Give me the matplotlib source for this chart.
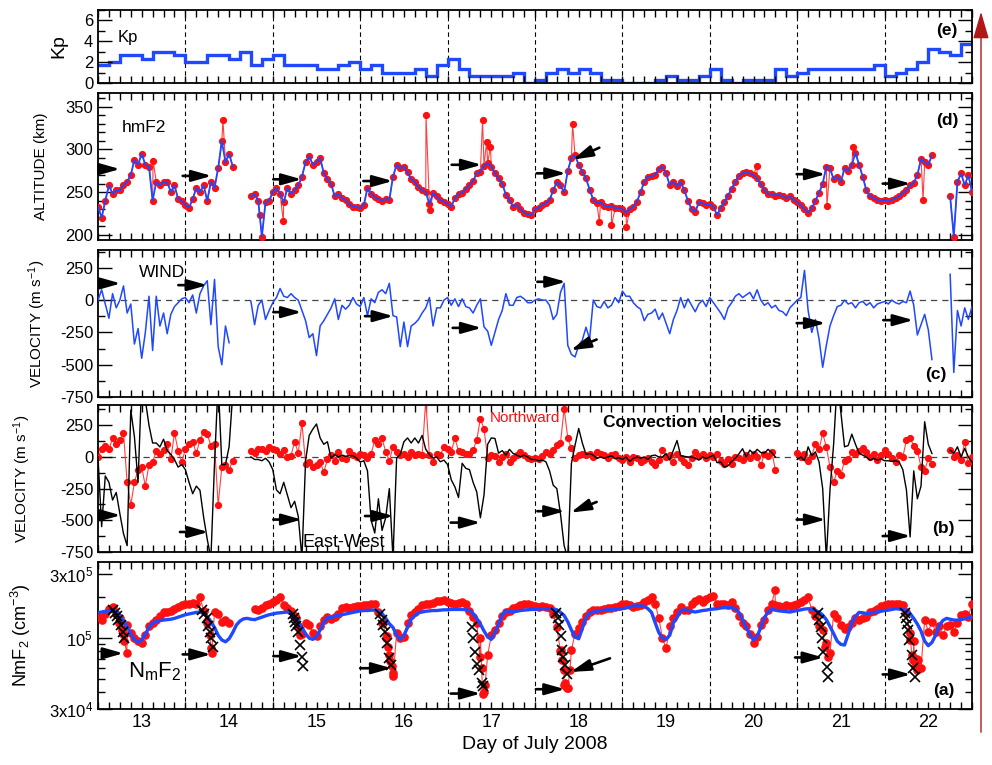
import numpy as np
import matplotlib
matplotlib.use('Agg')
import matplotlib.pyplot as plt
from matplotlib.patches import FancyArrowPatch
from matplotlib.ticker import MultipleLocator, FixedLocator, NullFormatter

plt.rcParams['font.family'] = ['Liberation Sans', 'DejaVu Sans']
plt.rcParams['mathtext.default'] = 'regular'
plt.rcParams['axes.unicode_minus'] = False

nan = np.nan

# Kp, 3-hourly from 12 UT July 12
kp = [1.7, 2.0, 2.7, 2.7, 2.3, 3.0, 3.0, 2.7,
      2.0, 2.0, 2.7, 2.7, 2.3, 3.0, 1.7, 2.3,
      2.7, 1.7, 1.7, 1.7, 1.3, 1.3, 1.7, 2.0,
      1.3, 1.7, 1.0, 1.0, 1.0, 1.3, 0.7, 1.7,
      2.3, 1.3, 0.7, 0.7, 0.7, 0.7, 1.0, 0.0,
      0.3, 1.0, 1.3, 1.0, 1.3, 1.0, 0.3, 0.3,
      0.0, 0.0, 0.0, 0.3, 0.7, 0.3, 0.3, 0.7,
      1.3, 0.3, 0.0, 0.3, 0.3, 0.3, 1.3, 0.7,
      1.0, 1.3, 1.3, 1.3, 1.3, 1.3, 1.3, 1.7,
      0.7, 1.0, 1.3, 2.0, 3.3, 3.0, 2.7, 3.7]

# hourly values, 12 UT July 12 -> 12 UT July 22
hmf2 = [233, 220, 240, 258, 248, 252, 252, 258, 262, 270,
        288, 282, 295, 282, 280, 240, 262, 258, 262, 262,
        250, 258, 242, 240, 235, 232, 242, 255, 250, 258,
        240, 262, 255, 278, 310, 285, 295, 280, nan, nan,
        nan, nan, 245, 248, 240, 198, 238, 240, 250, 255,
        248, 238, 255, 248, 252, 258, 268, 285, 292, 282,
        285, 290, 272, 265, 260, 245, 248, 243, 241, 236,
        233, 233, 231, 235, 255, 248, 244, 242, 240, 242,
        241, 268, 282, 278, 280, 273, 265, 262, 256, 252,
        250, 236, 249, 245, 241, 239, 236, 233, 243, 248,
        249, 254, 258, 263, 272, 274, 281, 284, 280, 272,
        266, 260, 247, 241, 233, 235, 230, 226, 224, 223,
        230, 232, 235, 237, 241, 252, 262, 258, 250, 275,
        290, 293, 282, 274, 266, 253, 241, 237, 238, 234,
        233, 234, 231, 232, 230, 226, 230, 233, 239, 250,
        262, 268, 269, 270, 277, 280, 272, 258, 262, 257,
        262, 252, 240, 230, 227, 238, 237, 235, 236, 233,
        223, 232, 238, 246, 254, 262, 269, 272, 274, 272,
        270, 266, 259, 253, 248, 248, 246, 247, 245, 243,
        245, 241, 238, 235, 230, 226, 231, 240, 249, 260,
        280, 278, 265, 268, 262, 278, 275, 282, 296, 282,
        268, 252, 245, 243, 241, 240, 241, 240, 241, 243,
        245, 249, 252, 258, 261, 270, 289, 285, 282, 293,
        nan, nan, nan, nan, 245, 198, 262, 272, 258, 270,
        250]
hmf2_out_t = [13.13, 13.93, 14.35, 14.62, 16.253, 16.30, 16.90, 16.946, 16.99,
              17.93, 18.236, 18.375, 18.546, 20.04, 20.84, 21.14, 21.94]
hmf2_out_v = [287, 334, 223, 216, 340, 229, 334, 309, 303,
              330, 215, 211, 209, 281, 234, 303, 241]

wind = [0, 80, -30, -140, 50, -60, 0, 110, -100, -30,
        -340, -220, -450, -250, 30, -390, 30, -200, -100, -260,
        -110, -50, -20, 10, 20, -20, 40, -100, 50, 110,
        150, -190, 160, -360, -500, -200, -330, nan, nan, nan,
        nan, nan, -10, -190, -40, 0, -150, -80, -20, 20,
        90, 30, 20, 50, 20, 0, -80, -160, -290, -260,
        -430, -200, -160, -110, -60, 10, -150, -40, -70, -40,
        20, -30, -50, 20, -120, 10, -20, 60, 80, 50,
        130, -120, -130, -360, -170, -360, -200, -180, -150, -100,
        -60, 20, -200, -60, -60, 0, 20, -40, 10, -50,
        10, -50, -60, -100, -40, 10, -207, -240, -350, -250,
        -150, -80, 50, -40, -40, 20, 30, 10, -20, -20,
        0, 10, 0, 0, -40, -150, -110, 60, 130, -350,
        -420, -440, -350, -310, -210, -300, 0, -50, -60, -10,
        -60, -40, 20, -20, 70, 30, 30, -20, -50, -70,
        -160, -110, -100, -70, -150, -100, -180, -260, -150, -80,
        20, -60, 10, -40, -90, -30, 0, -50, 20, -20,
        -60, -100, -150, -60, -20, 30, 50, 20, 40, 60,
        10, 80, 0, -40, -20, -60, -40, -80, -90, -120,
        -60, -30, 0, 20, 230, -80, -250, -150, -300, -520,
        -350, -200, -120, -50, -40, 0, -30, -20, -60, -20,
        -10, -40, -20, -60, -30, -20, -10, -30, 0, -20,
        -30, -10, -20, 70, -40, -270, -190, -110, -230, -460,
        nan, nan, nan, nan, 200, -560, -80, -200, -60, -150,
        -50]

ew = [0, -550, -150, -200, -340, -280, -447, -605, -700, 370,
      160, -200, 600, 450, 250, 110, 110, 79, 140, 50,
      20, -20, -80, -60, -100, -200, -290, -230, -263, -474,
      -650, -800, -50, 600, -60, -60, 80, 500, nan, nan,
      nan, nan, 0, -20, -20, -30, -10, -40, -100, -260,
      -290, -200, -300, -400, -350, -470, -800, -30, 170, 220,
      260, 150, 100, 120, -10, 20, 0, 15, 5, 10,
      10, -10, -40, -30, -110, -500, -600, -330, -580, -480,
      -250, -800, -10, 20, 120, 150, 110, 150, 110, 170,
      60, 20, -10, 0, -38, -25, -60, -180, -236, -320,
      -50, -90, -100, -200, -276, -480, -300, 100, 150, 146,
      30, 50, 14, 60, 27, 14, 1, 14, 0, -20,
      -20, -30, -25, -38, -110, -223, -250, -450, -700, -800,
      -50, 93, 225, 110, 20, 27, 14, -12, 0, -10,
      0, 10, -15, -5, -20, 0, -35, -12, 0, -10,
      0, -20, 10, 15, 0, 0, 27, -25, 54, 130,
      10, 5, 0, 0, -10, -25, 0, -12, 0, 14,
      -45, -40, -80, -70, -35, -10, 25, 65, 0, 54,
      25, 60, 35, 30, 60, 35, 0, nan, nan, nan,
      nan, nan, -20, 0, -30, 80, 10, 40, -40, -250,
      -800, -262, 100, 600, 350, 80, 90, 180, 100, 30,
      14, 0, -25, -12, -25, -15, -30, -30, -35, -30,
      -40, -100, -262, -631, -110, -330, -230, 278, 100, 27,
      nan, nan, nan, nan, 54, 27, 80, 0, 67, 0,
      -40]

north = [0, 60, 90, 60, 150, 100, 130, 190, -200, -380,
         -200, -100, -78, -230, -60, -40, 50, 26, 53, 100,
         -20, 190, 50, -40, 60, 100, 120, 30, 130, 200,
         180, 90, 100, -380, -78, -60, -100, -30, nan, nan,
         nan, nan, 50, 30, 60, 60, 50, 80, 66, 53,
         26, 53, 0, 10, 120, 30, 270, -52, -40, -80,
         -60, -40, -120, -20, 14, -30, 40, -10, -20, 50,
         14, 1, 27, 14, -12, 27, 130, 100, 146, 41,
         -30, 80, 41, 14, 27, 1, 41, 14, 27, 14,
         450, 14, -38, 27, 14, 80, 60, 40, 146, 50,
         41, 20, 27, 54, 133, 303, 220, -10, 14, 10,
         -38, 0, 20, -38, -12, 14, 40, 14, -5, -15,
         -12, -20, 10, 41, 27, 54, 93, 110, 380, 150,
         67, -12, 14, 27, 14, 27, 1, 41, 27, 14,
         -12, 14, 27, -12, -25, 1, -38, 1, -12, -38,
         -25, -12, -38, -65, -25, 54, 0, 14, -38, 27,
         -12, -40, -60, -10, 40, 10, 27, -12, 14, 0,
         27, -30, -52, -15, -52, 0, -12, -25, 14, -12,
         27, 0, -65, 20, 10, 40, -100, nan, nan, nan,
         nan, nan, 30, 0, 27, -30, 10, 100, 60, 186,
         80, -78, -200, -110, -140, -30, -20, 40, 20, 45,
         67, 41, 0, 27, -25, 14, 54, 20, -10, -38,
         14, 0, 133, 146, 90, 50, -78, -110, -10, -52,
         nan, nan, nan, nan, 54, 0, 14, -25, 120, -50,
         0]

# NmF2 in units of 1e5 cm^-3
nmf2_model = [1.54, 1.56, 1.58, 1.59, 1.61, 1.58, 1.48, 1.34, 1.22, 1.07,
              0.98, 0.93, 0.97, 1.07, 1.20, 1.29, 1.33, 1.35, 1.36, 1.37,
              1.38, 1.40, 1.43, 1.46, 1.49, 1.51, 1.53, 1.55, 1.56, 1.53,
              1.44, 1.32, 1.20, 1.05, 0.97, 0.94, 0.99, 1.10, 1.25, 1.34,
              1.39, 1.40, 1.38, 1.37, 1.40, 1.43, 1.46, 1.49, 1.51, 1.53,
              1.54, 1.55, 1.56, 1.52, 1.44, 1.33, 1.20, 1.08, 1.00, 0.98,
              1.03, 1.15, 1.30, 1.42, 1.41, 1.46, 1.47, 1.49, 1.51, 1.53,
              1.55, 1.57, 1.59, 1.60, 1.60, 1.61, 1.61, 1.58, 1.52, 1.40,
              1.28, 1.20, 1.05, 0.98, 1.05, 1.20, 1.38, 1.47, 1.54, 1.56,
              1.58, 1.59, 1.60, 1.60, 1.61, 1.62, 1.62, 1.63, 1.63, 1.63,
              1.63, 1.62, 1.60, 1.52, 1.40, 1.27, 1.13, 1.02, 0.98, 1.10,
              1.26, 1.48, 1.59, 1.58, 1.56, 1.58, 1.60, 1.61, 1.62, 1.63,
              1.63, 1.64, 1.65, 1.65, 1.65, 1.65, 1.62, 1.55, 1.47, 1.32,
              1.15, 1.02, 0.99, 1.18, 1.42, 1.53, 1.56, 1.58, 1.60, 1.61,
              1.62, 1.63, 1.64, 1.64, 1.65, 1.67, 1.70, 1.73, 1.73, 1.73,
              1.72, 1.65, 1.55, 1.30, 1.10, 1.00, 0.98, 1.05, 1.30, 1.42,
              1.60, 1.62, 1.60, 1.58, 1.56, 1.58, 1.60, 1.61, 1.63, 1.64,
              1.65, 1.67, 1.68, 1.68, 1.68, 1.64, 1.55, 1.37, 1.20, 1.07,
              0.97, 1.03, 1.20, 1.42, 1.56, 1.63, 1.61, 1.59, 1.58, 1.57,
              1.56, 1.58, 1.60, 1.62, 1.64, 1.65, 1.63, 1.60, 1.56, 1.48,
              1.37, 1.22, 1.08, 0.95, 0.90, 0.89, 1.07, 1.30, 1.45, 1.55,
              1.54, 1.52, 1.53, 1.55, 1.56, 1.58, 1.60, 1.61, 1.63, 1.65,
              1.64, 1.62, 1.61, 1.52, 1.40, 1.27, 1.13, 0.95, 0.88, 0.93,
              1.05, 1.24, 1.35, 1.40, 1.38, 1.36, 1.36, 1.37, 1.39, 1.41,
              1.44]

nmf2_obs = [1.44, 1.36, 1.50, 1.65, 1.70, 1.52, 1.40, 1.08, 1.25, 1.10,
            1.00, 0.95, 0.92, 1.05, 1.22, 1.30, 1.36, 1.45, 1.56, 1.56,
            1.60, 1.64, 1.70, 1.77, 1.78, 1.80, 1.82, 1.80, 2.00, 1.60,
            1.30, 0.85, 1.56, 1.50, 1.32, 1.36, 1.29, nan, nan, nan,
            nan, nan, nan, 1.65, 1.62, 1.68, 1.76, 1.80, 1.85, 1.90,
            2.00, 1.75, 1.66, 1.58, 1.45, 1.22, 1.08, 1.30, 1.25, 1.10,
            1.03, 1.22, 1.36, 1.44, 1.38, 1.44, 1.50, 1.68, 1.70, 1.68,
            1.70, 1.72, 1.74, 1.76, 1.77, 1.78, 1.80, 1.56, 1.30, 1.00,
            0.75, 0.55, 1.10, 1.00, 1.02, 1.30, 1.48, 1.55, 1.65, 1.75,
            1.80, 1.80, 1.82, 1.89, 1.88, 1.90, 1.86, 1.82, 1.80, 1.82,
            1.84, 1.80, 1.60, 1.44, 1.29, 1.00, 0.40, 0.75, 1.05, 1.15,
            1.30, 1.45, 1.55, 1.60, 1.66, 1.70, 1.75, 1.80, 1.78, 1.76,
            1.72, 1.70, 1.72, 1.70, 1.66, 1.52, 1.20, 0.80, 0.45, 0.43,
            0.82, 1.08, 1.18, 1.32, 1.46, 1.55, 1.61, 1.61, 1.62, 1.64,
            1.66, 1.68, 1.70, 1.74, 1.78, 1.80, 1.76, 1.70, 1.74, 1.76,
            1.85, 1.92, 2.00, 1.80, 1.40, 1.00, 0.84, 1.22, 1.40, 1.56,
            1.70, 1.61, 1.62, 1.78, 1.88, 1.94, 1.84, 1.94, 2.00, 2.05,
            1.80, 1.78, 1.80, 1.76, 1.84, 1.68, 1.46, 1.30, 1.22, 1.08,
            0.92, 1.02, 1.25, 1.36, 1.61, 1.80, 1.76, 1.72, 1.70, 1.76,
            1.72, 1.76, 1.80, 1.86, 1.90, 2.00, 1.62, 1.46, 1.24, 1.15,
            0.92, 0.78, 1.50, 1.40, 1.25, 1.16, 1.20, 1.30, 1.42, 1.37,
            1.40, 1.44, 1.56, 1.60, 1.65, 1.72, 1.76, 1.78, 1.80, 1.80,
            1.78, 1.76, 1.56, 1.10, 0.95, 0.70, 0.60, 1.36, 1.12, 1.32,
            1.12, 1.22, 1.05, 1.22, 1.25, 1.12, 1.30, 1.48, 1.50, 1.44,
            1.80]
nmf2_drop_t = [12.74, 12.77, 12.80, 12.83, 13.75, 13.78, 13.80, 14.76, 14.79, 14.81,
               15.765, 15.803, 15.822, 15.841, 15.86, 15.879, 16.87, 16.89, 16.90, 16.928,
               17.793, 17.812, 17.832, 17.843, 17.862, 17.90, 20.246, 20.818, 20.856,
               21.79, 21.81, 21.829, 21.848, 21.867, 21.886]
nmf2_drop_v = [1.30, 1.15, 0.95, 0.78, 1.35, 1.05, 0.78, 1.40, 1.22, 1.05,
               1.29, 1.03, 0.86, 0.68, 0.62, 0.53, 0.73, 0.60, 0.39, 0.45,
               0.82, 0.69, 0.58, 0.47, 0.43, 0.58, 2.25, 0.86, 0.73,
               0.97, 0.75, 0.69, 0.62, 0.58, 0.69]

# crosses
cross_t = [12.668, 12.695, 12.714, 12.733, 12.760, 12.783, 12.798,
           13.686, 13.712, 13.743, 13.762, 13.781, 13.789, 13.812,
           14.727, 14.742, 14.754, 14.765, 14.784, 14.811, 14.830, 14.849,
           15.727, 15.746, 15.765, 15.784, 15.810, 15.833, 15.852,
           16.775, 16.794, 16.813, 16.833, 16.859, 16.890, 16.900,
           17.737, 17.760, 17.778, 17.793, 17.813, 17.824, 17.843, 17.862,
           20.742, 20.753, 20.768, 20.787, 20.799, 20.837, 20.856,
           21.733, 21.745, 21.752, 21.764, 21.783, 21.809, 21.829, 21.848]
cross_v = [1.61, 1.54, 1.46, 1.36, 1.25, 1.12, 1.00,
           1.61, 1.52, 1.40, 1.22, 1.12, 1.00, 0.86,
           1.52, 1.40, 1.32, 1.22, 1.12, 0.89, 0.73, 0.62,
           1.52, 1.36, 1.25, 1.12, 0.92, 0.71, 0.63,
           1.20, 1.00, 0.79, 0.65, 0.58, 0.47, 0.44,
           1.54, 1.40, 1.25, 1.03, 0.82, 0.73, 0.63, 0.54,
           1.54, 1.36, 1.20, 1.00, 0.79, 0.61, 0.52,
           1.54, 1.40, 1.27, 1.15, 0.97, 0.75, 0.60, 0.52]

# arrows: (start day, end day, y)
arrows_d = [(12.542, 12.752, 277), (13.469, 13.801, 269), (14.506, 14.831, 265),
            (15.536, 15.872, 263), (16.547, 16.890, 282), (17.519, 17.855, 272),
            (20.494, 20.826, 271), (21.478, 21.799, 260)]
arrows_c = [(12.542, 12.760, 129), (13.419, 13.751, 116), (14.506, 14.831, -93),
            (15.555, 15.879, -124), (16.558, 16.890, -215), (17.527, 17.855, 142),
            (20.494, 20.826, -178), (21.485, 21.829, -155)]
arrows_b = [(12.542, 12.760, -460), (13.438, 13.762, -592), (14.506, 14.831, -494),
            (15.555, 15.879, -466), (16.535, 16.878, -518), (17.527, 17.843, -428),
            (20.494, 20.826, -494), (21.478, 21.799, -624)]
arrows_a = [(12.600, 12.790, 0.773), (13.469, 13.793, 0.759), (14.506, 14.831, 0.737),
            (15.500, 15.860, 0.60), (16.535, 16.878, 0.39), (17.510, 17.843, 0.42),
            (20.475, 20.799, 0.72), (21.478, 21.799, 0.54)]
# slanted arrows: (tail day, tail y, head day, head y)
slant_d = (18.236, 302, 17.931, 288)
slant_c = (18.205, -305, 17.908, -388)
slant_b = (18.205, -355, 17.908, -439)
slant_a = (18.358, 0.71, 17.908, 0.563)

t = 12.5 + np.arange(len(hmf2)) / 24.0
kp_edges = 12.5 + np.arange(len(kp) + 1) * 0.125

BLUE = '#1f48ff'
RED = '#ff1010'
ARROW = '-|>,head_length=0.6,head_width=0.17'

fig = plt.figure(figsize=(9.92, 7.65), dpi=100)


def panel(top, bot):
    return fig.add_axes([98 / 992, 1 - bot / 765, 874 / 992, (bot - top) / 765])


def style(ax, labels=False):
    ax.set_xlim(12.5, 22.5)
    ax.xaxis.set_major_locator(MultipleLocator(1))
    ax.xaxis.set_minor_locator(MultipleLocator(0.125))
    ax.tick_params(which='both', direction='in', top=True, right=True, width=1.0)
    ax.tick_params(axis='x', which='both', length=5, labelsize=13)
    ax.tick_params(axis='y', which='major', length=10, labelsize=12)
    ax.tick_params(axis='y', which='minor', length=5)
    ax.tick_params(axis='x', labelbottom=labels)
    for s in ax.spines.values():
        s.set_linewidth(1.3)
    for d in np.arange(13.5, 22.0, 1.0):
        ax.axvline(d, color='k', lw=0.8, ls=(0, (4, 3)), zorder=1)


def arrow(ax, x0, y0, x1, y1):
    ax.annotate('', xy=(x1, y1), xytext=(x0, y0),
                arrowprops=dict(arrowstyle=ARROW, mutation_scale=20, color='k',
                                lw=1.9, shrinkA=0, shrinkB=0), zorder=8)


# (e) Kp
ax_e = panel(10, 83)
style(ax_e)
ax_e.stairs(kp, kp_edges, baseline=None, color=BLUE, lw=2.4)
ax_e.set_ylim(0, 7)
ax_e.yaxis.set_major_locator(MultipleLocator(2))
ax_e.yaxis.set_minor_locator(MultipleLocator(1))
ax_e.set_ylabel('Kp', fontsize=14)
ax_e.yaxis.set_label_coords(-0.035, 0.5)
ax_e.text(12.72, 4.4, 'Kp', fontsize=12, va='center')
ax_e.text(22.33, 5.0, '(e)', fontsize=12.5, fontweight='bold', ha='right', va='center')

# (d) hmF2
ax_d = panel(93, 240)
style(ax_d)
red_t = np.concatenate([t, hmf2_out_t])
red_v = np.concatenate([np.array(hmf2, float), hmf2_out_v])
o = np.argsort(red_t, kind='stable')
ax_d.plot(red_t[o], red_v[o], color='#ff4040', lw=0.8, zorder=2)
ax_d.plot(red_t[o], red_v[o], 'o', ms=4.2, color=RED, mec=RED, zorder=3)
ax_d.plot(t, hmf2, color=BLUE, lw=1.3, zorder=4)
ax_d.set_ylim(194, 366)
ax_d.yaxis.set_major_locator(MultipleLocator(50))
ax_d.yaxis.set_minor_locator(MultipleLocator(10))
ax_d.set_ylabel('ALTITUDE (km)', fontsize=11)
ax_d.yaxis.set_label_coords(-0.057, 0.5)
ax_d.text(12.775, 326, 'hmF2', fontsize=12.5, va='center')
ax_d.text(22.34, 334, '(d)', fontsize=12.5, fontweight='bold', ha='right', va='center')
for x0, x1, y in arrows_d:
    arrow(ax_d, x0, y, x1, y)
arrow(ax_d, *slant_d)

# (c) wind
ax_c = panel(250, 397)
style(ax_c)
ax_c.axhline(0, color='#444444', lw=0.9, ls=(0, (5, 4)), zorder=1)
ax_c.plot(t, wind, color=BLUE, lw=1.1, zorder=3)
ax_c.set_ylim(-750, 388)
ax_c.yaxis.set_major_locator(MultipleLocator(250))
ax_c.yaxis.set_minor_locator(MultipleLocator(125))
ax_c.set_ylabel('VELOCITY (m s$^{-1}$)', fontsize=11)
ax_c.yaxis.set_label_coords(-0.057, 0.5)
ax_c.text(12.97, 212, 'WIND', fontsize=12.5, va='center')
ax_c.text(22.21, -578, '(c)', fontsize=12.5, fontweight='bold', ha='right', va='center')
for x0, x1, y in arrows_c:
    arrow(ax_c, x0, y, x1, y)
arrow(ax_c, *slant_c)

# (b) convection
ax_b = panel(405, 552)
style(ax_b)
ax_b.axhline(0, color='#444444', lw=0.9, ls=(0, (5, 4)), zorder=1)
ax_b.plot(t, north, color='#ff4040', lw=0.8, zorder=2)
ax_b.plot(t, north, 'o', ms=4.2, color=RED, mec=RED, zorder=3)
ax_b.plot(t, ew, color='k', lw=1.0, zorder=4)
ax_b.set_ylim(-750, 410)
ax_b.yaxis.set_major_locator(MultipleLocator(250))
ax_b.yaxis.set_minor_locator(MultipleLocator(125))
ax_b.set_ylabel('VELOCITY (m s$^{-1}$)', fontsize=11)
ax_b.yaxis.set_label_coords(-0.074, 0.5)
ax_b.text(16.985, 311, 'Northward', color=RED, fontsize=11, va='center')
ax_b.text(18.278, 268, 'Convection velocities', fontsize=12.5, fontweight='bold', va='center')
ax_b.text(14.845, -678, 'East-West', fontsize=13, va='center')
ax_b.text(22.305, -567, '(b)', fontsize=12.5, fontweight='bold', ha='right', va='center')
for x0, x1, y in arrows_b:
    arrow(ax_b, x0, y, x1, y)
arrow(ax_b, *slant_b)

# (a) NmF2
ax_a = panel(562, 709)
style(ax_a, labels=True)
ax_a.set_yscale('log')
ax_a.set_ylim(0.3, 3.65)
ax_a.yaxis.set_major_locator(FixedLocator([0.3, 1.0, 3.0]))
ax_a.yaxis.set_minor_locator(FixedLocator([0.4, 0.5, 0.6, 0.7, 0.8, 0.9, 2.0]))
ax_a.yaxis.set_minor_formatter(NullFormatter())
ax_a.set_yticklabels(['3x10$^4$', '10$^5$', '3x10$^5$'])
obs_t = np.concatenate([t, nmf2_drop_t])
obs_v = np.concatenate([np.array(nmf2_obs, float), nmf2_drop_v])
o = np.argsort(obs_t, kind='stable')
ax_a.plot(obs_t[o], obs_v[o], color='#ff4040', lw=0.8, zorder=2)
ax_a.plot(obs_t[o], obs_v[o], 'o', ms=5.2, color=RED, mec=RED, zorder=3)
ax_a.plot(t, nmf2_model, color=BLUE, lw=2.4, zorder=4)
ax_a.plot(cross_t, cross_v, 'x', color='k', ms=6.5, mew=1.2, zorder=5)
ax_a.set_ylabel('NmF$_2$ (cm$^{-3}$)', fontsize=13)
ax_a.yaxis.set_label_coords(-0.074, 0.5)
ax_a.set_xlabel('Day of July 2008', fontsize=14)
ax_a.text(12.843, 0.57, 'N$_m$F$_2$', fontsize=16, va='center')
ax_a.text(22.305, 0.41, '(a)', fontsize=12.5, fontweight='bold', ha='right', va='center')
for x0, x1, y in arrows_a:
    arrow(ax_a, x0, y, x1, y)
arrow(ax_a, *slant_a)

# time arrow on the right
fig.add_artist(FancyArrowPatch((981 / 992, 1 - 735 / 765), (981 / 992, 1 - 9 / 765),
                               transform=fig.transFigure,
                               arrowstyle='-|>,head_length=1.2,head_width=0.35',
                               mutation_scale=14, color='#b01818', lw=1.0))

fig.savefig('out.png', dpi=100)
